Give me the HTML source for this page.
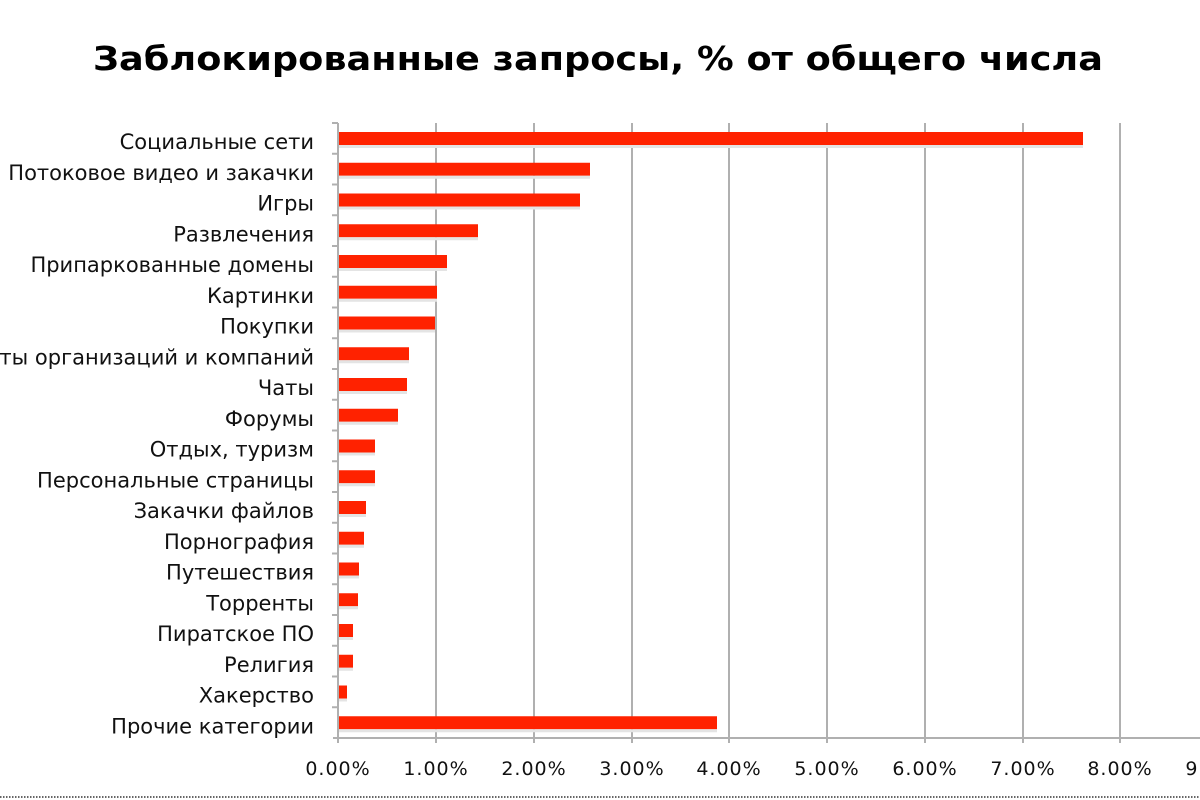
<!DOCTYPE html>
<html><head><meta charset="utf-8"><style>
body{margin:0;width:1200px;height:800px;background:#fff;overflow:hidden;position:relative;font-family:"DejaVu Sans","Liberation Sans",sans-serif}
</style></head><body>
<svg width="1200" height="800" style="position:absolute;left:0;top:0" font-family="DejaVu Sans, Liberation Sans, sans-serif">
<text x="93" y="70" font-size="33" font-weight="bold" fill="#000" textLength="1010" lengthAdjust="spacingAndGlyphs">Заблокированные запросы, % от общего числа</text>
<g stroke="#b0b0b0" stroke-width="2">
<line x1="436" y1="123" x2="436" y2="743"/><line x1="534" y1="123" x2="534" y2="743"/><line x1="632" y1="123" x2="632" y2="743"/><line x1="729" y1="123" x2="729" y2="743"/><line x1="827" y1="123" x2="827" y2="743"/><line x1="925" y1="123" x2="925" y2="743"/><line x1="1023" y1="123" x2="1023" y2="743"/><line x1="1120" y1="123" x2="1120" y2="743"/>
<line x1="338" y1="123" x2="338" y2="743"/><line x1="333" y1="738" x2="1200" y2="738"/>
</g>
<g id="ticks" stroke="#b0b0b0" stroke-width="2"></g>
<g id="bars" fill="#ff2200"></g>
<g id="labels" font-size="21" fill="#111" text-anchor="end"></g>
<g font-size="19" fill="#111" text-anchor="middle" letter-spacing="1">
<text x="338" y="775">0.00%</text><text x="436" y="775">1.00%</text><text x="534" y="775">2.00%</text><text x="632" y="775">3.00%</text><text x="729" y="775">4.00%</text><text x="827" y="775">5.00%</text><text x="925" y="775">6.00%</text><text x="1023" y="775">7.00%</text><text x="1120" y="775">8.00%</text><text x="1218" y="775">9.00%</text>
</g>
<line x1="0" y1="797" x2="1200" y2="797" stroke="#333" stroke-width="1.5" stroke-dasharray="1.5,1.5"/>
</svg>
<script>
var L=["Социальные сети","Потоковое видео и закачки","Игры","Развлечения","Припаркованные домены","Картинки","Покупки","Сайты организаций и компаний","Чаты","Форумы","Отдых, туризм","Персональные страницы","Закачки файлов","Порнография","Путешествия","Торренты","Пиратское ПО","Религия","Хакерство","Прочие категории"];
var E=[1083,590,580,478,447,437,435,409,407,398,375,375,366,364,359,358,353,353,347,717];
var ns="http://www.w3.org/2000/svg",b=document.getElementById("bars"),l=document.getElementById("labels"),tk=document.getElementById("ticks");
for(var i=0;i<20;i++){var y0=123+i*30.75;
var r=document.createElementNS(ns,"rect");r.setAttribute("x",339);r.setAttribute("y",y0+9);r.setAttribute("width",E[i]-339);r.setAttribute("height",13);b.appendChild(r);
var s=document.createElementNS(ns,"rect");s.setAttribute("x",339);s.setAttribute("y",y0+22);s.setAttribute("width",E[i]-339);s.setAttribute("height",3);s.setAttribute("fill","#e4e4e4");b.appendChild(s);
var t=document.createElementNS(ns,"text");t.setAttribute("x",314);t.setAttribute("y",y0+26);t.textContent=L[i];l.appendChild(t);
var k=document.createElementNS(ns,"line");k.setAttribute("x1",332);k.setAttribute("x2",338);k.setAttribute("y1",y0);k.setAttribute("y2",y0);tk.appendChild(k);}
</script>
</body></html>
